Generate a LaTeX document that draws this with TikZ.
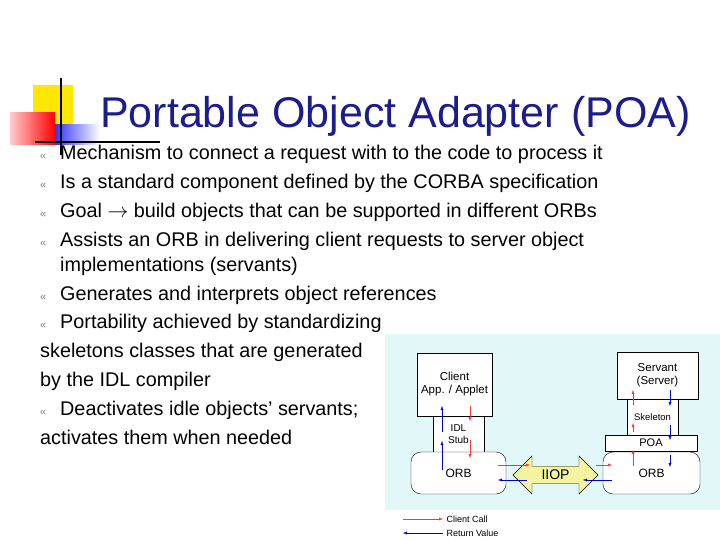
\documentclass[tikz,border=0pt]{standalone}
\usepackage{fontspec}
\setmainfont{Liberation Sans}
\usetikzlibrary{shapes.arrows,arrows.meta}
\definecolor{panel}{HTML}{E2F7F8}
\definecolor{iiop}{HTML}{F4F4A0}
\definecolor{titleblue}{HTML}{1C1C8C}
\begin{document}
\begin{tikzpicture}[x=1pt,y=-1pt]
	    \tikzset{>={Latex[length=4pt,width=3pt]},
	      box/.style={draw,fill=white,inner sep=0pt,font=\fontsize{9}{10}\selectfont},
	      line/.style={anchor=base west,inner sep=0pt,font=\fontsize{19.8}{20}\selectfont},
	      blt/.style={anchor=base west,inner sep=0pt,text=gray,font=\fontsize{11}{11}\selectfont},
	      call/.style={->,red!80,thin},
	      ret/.style={->,blue!80!black,thin}}
	    \useasboundingbox (0,0) rectangle (720,540);
	    % logo
	    \fill[yellow!90!orange] (33,85) rectangle (73,125);
	    \shade[left color=red!20,right color=red] (10,113) rectangle (55,145);
	    \shade[left color=blue!80,right color=white] (55,125) rectangle (100,145);
	    \draw[line width=1.5pt] (61,78) -- (61,155);
	    \draw[line width=1.5pt] (35,142) -- (160,142);
	    \node[anchor=base west,inner sep=0pt,text=titleblue,font=\fontsize{43}{45}\selectfont] (title) at (100,128) {Portable Object Adapter (POA)};
	    % bullets
	    \foreach \y/\t in {160/Mechanism to connect a request with to the code to process it,
	                       189/Is a standard component defined by the CORBA specification,
	                       218/Goal $\rightarrow$ build objects that can be supported in different ORBs,
	                       247/Assists an ORB in delivering client requests to server object,
	                       300/Generates and interprets object references,
	                       328/Portability achieved by standardizing,
	                       415/Deactivates idle objects' servants;}{
	      \node[blt] at (40,\y) {«};
	      \node[line] at (60,\y) {\t};
	    }
	    \node[line] (l5) at (60,271) {implementations (servants)};
	    \node[line] (l7) at (40,357) {skeletons classes that are generated};
	    \node[line] (l8) at (40,386) {by the IDL compiler};
	    \node[line] (l10) at (40,444) {activates them when needed};
	    % diagram
	    \fill[panel] (385,334) rectangle (720,510);
	    \node[box,minimum width=75,minimum height=63,align=center,font=\fontsize{11.5}{13}\selectfont] (client) at (454.5,384.5) {Client\\App. / Applet};
	    \node[box,minimum width=51,minimum height=36,align=center,font=\fontsize{10}{12}\selectfont] (stub) at (458.5,434) {IDL\\Stub};
	    \node[box,rounded corners=10,minimum width=95,minimum height=42,font=\fontsize{12}{13}\selectfont] (orbl) at (458.5,473) {ORB};
	    \node[box,minimum width=81,minimum height=47,align=center,font=\fontsize{11.5}{13}\selectfont] (servant) at (657.5,375.5) {Servant\\(Server)};
	    \node[box,minimum width=51,minimum height=36,font=\fontsize{9.5}{11}\selectfont] (skel) at (652.5,417) {Skeleton};
	    \node[box,minimum width=92,minimum height=16,font=\fontsize{11}{12}\selectfont] (poa) at (651,443) {POA};
	    \node[box,rounded corners=10,minimum width=97,minimum height=42,font=\fontsize{12}{13}\selectfont] (orbr) at (651.5,473) {ORB};
	    \node[draw,fill=iiop,double arrow,double arrow head extend=6,minimum height=85,minimum width=38,inner sep=0pt,font=\fontsize{14}{15}\selectfont] (iiop) at (555.5,475) {IIOP};
	    % calls and returns
	    \draw[call] (470,406) -- (470,421);
	    \draw[call] (470,440) -- (470,458);
	    \draw[ret] (442,432) -- (442,406);
	    \draw[ret] (442,470) -- (442,441);
	    \draw[call] (498,465) -- (530,465);
	    \draw[call] (596,465) -- (612,465);
	    \draw[ret] (612,480) -- (583,480);
	    \draw[ret] (527,480) -- (498,480);
	    \draw[call] (633,466) -- (633,450);
	    \draw[call] (633,432) -- (633,423);
	    \draw[call] (633,405) -- (633,390);
	    \draw[ret] (670,390) -- (670,406);
	    \draw[ret] (670,425) -- (670,440);
	    \draw[ret] (670,455) -- (670,467);
	    % legend
	    \draw[call] (403,519) -- (443,519);
	    \node[anchor=west,font=\fontsize{9}{10}\selectfont] (lcall) at (443,519) {Client Call};
	    \draw[ret] (443,533) -- (403,533);
	    \node[anchor=west,font=\fontsize{9}{10}\selectfont] (lret) at (443,533) {Return Value};
\end{tikzpicture}
\end{document}
